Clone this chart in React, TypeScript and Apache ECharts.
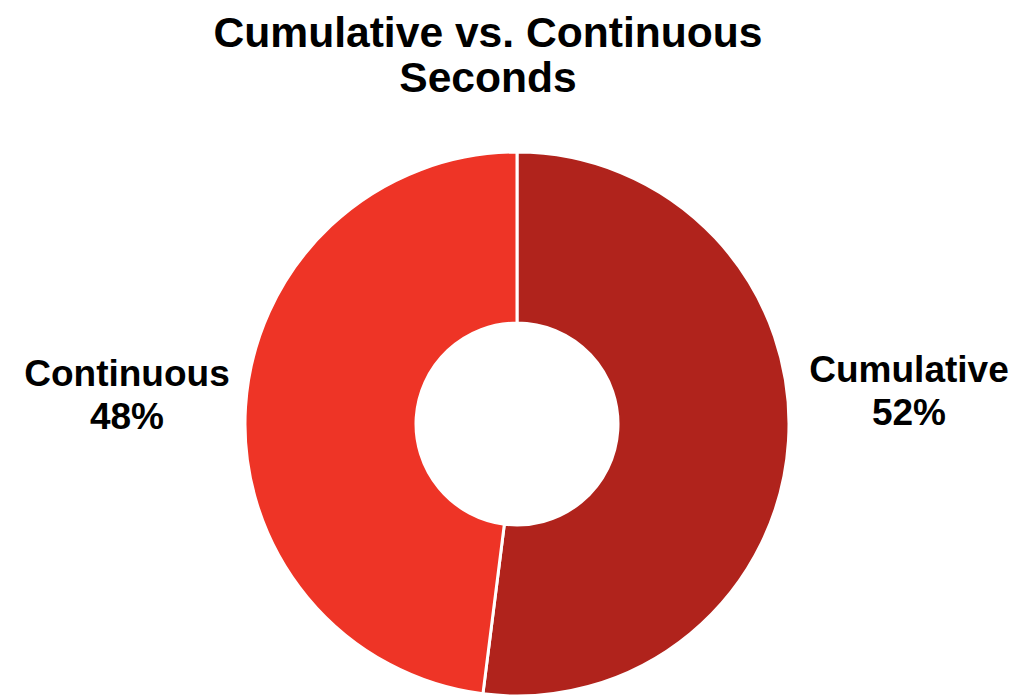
import React, { useEffect, useRef } from "react";
import * as echarts from "echarts";

const categories = ["Cumulative", "Continuous"];
const values = [52, 48];
const colors = ["#B0231C", "#EE3426"];
const titleText = "Cumulative vs. Continuous\nSeconds";

export default function App() {
  const ref = useRef<HTMLDivElement>(null);
  useEffect(() => {
    document.body.style.margin = "0";
    if (!ref.current) return;
    const chart = echarts.init(ref.current, null, { renderer: "svg" });
    const cx = 517;
    const cy = 424;
    const R = 272;
    const labelPos = [
      { x: cx + R + 120, y: cy - 33 },
      { x: cx - R - 118, y: cy - 29 },
    ];
    chart.setOption({
      animation: false,
      backgroundColor: "#ffffff",
      title: {
        text: titleText,
        left: 483,
        top: 4,
        textAlign: "center",
        textStyle: {
          fontFamily: "Liberation Sans, Arial, sans-serif",
          fontSize: 42.6,
          fontWeight: "bold",
          color: "#000000",
          lineHeight: 45,
        },
      },
      series: [
        {
          type: "pie",
          center: [cx, cy],
          radius: [101, R],
          startAngle: 90,
          clockwise: true,
          avoidLabelOverlap: false,
          itemStyle: { borderColor: "#ffffff", borderWidth: 3 },
          label: {
            show: true,
            position: "outside",
            formatter: (p: any) => `${p.name}\n${p.value}%`,
            fontFamily: "Liberation Sans, Arial, sans-serif",
            fontSize: 37,
            fontWeight: "bold",
            color: "#000000",
            lineHeight: 43,
            align: "center",
          },
          labelLine: { show: false },
          labelLayout: (params: any) => {
            const p = labelPos[params.dataIndex];
            return { x: p.x, y: p.y, align: "center", verticalAlign: "middle" };
          },
          data: categories.map((c, i) => ({
            name: c,
            value: values[i],
            itemStyle: { color: colors[i] },
          })),
        },
      ],
    });
    return () => chart.dispose();
  }, []);
  return <div ref={ref} style={{ width: 1036, height: 695 }} />;
}
